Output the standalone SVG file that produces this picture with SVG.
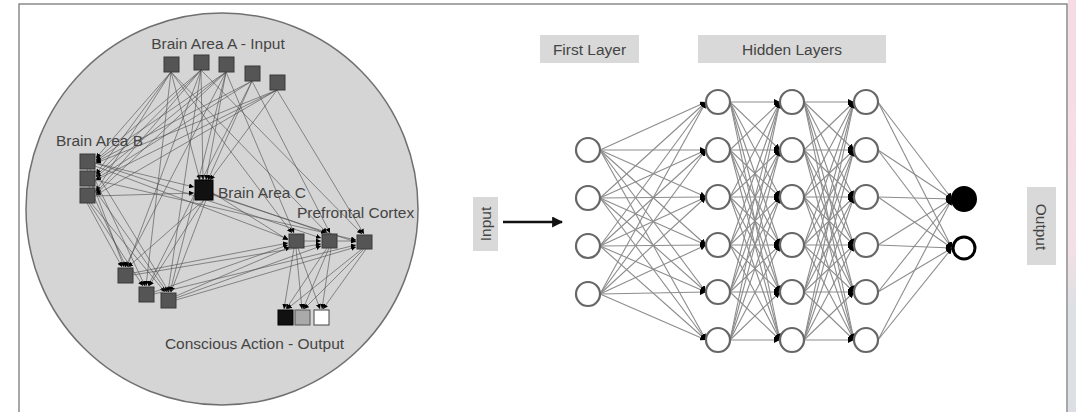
<svg xmlns="http://www.w3.org/2000/svg" width="1076" height="412" viewBox="0 0 1076 412">
<defs>
<marker id="ah" viewBox="0 0 6 6" refX="6" refY="3" markerWidth="5" markerHeight="5" markerUnits="userSpaceOnUse" orient="auto"><path d="M0,0 L6,3 L0,6 z" fill="#000"/></marker>
<marker id="ah2" viewBox="0 0 6 6" refX="6" refY="3" markerWidth="6" markerHeight="6" markerUnits="userSpaceOnUse" orient="auto"><path d="M0,0 L6,3 L0,6 z" fill="#000"/></marker>
<marker id="big" viewBox="0 0 10 10" refX="9" refY="5" markerWidth="11" markerHeight="11" markerUnits="userSpaceOnUse" orient="auto"><path d="M0,0 L10,5 L0,10 z" fill="#111"/></marker>
<linearGradient id="side" x1="0" y1="0" x2="0" y2="1"><stop offset="0" stop-color="#f6dbe3"/><stop offset="0.6" stop-color="#f3e0e5"/><stop offset="0.75" stop-color="#dde0e4"/><stop offset="1" stop-color="#dcdfe3"/></linearGradient>
</defs>
<style>
.lbl{font-family:"Liberation Sans",Arial,sans-serif;fill:#444;font-size:15.5px}
.sq{fill:#555;stroke:#3a3a3a;stroke-width:1}
.ge line{stroke:#4a4a4a;stroke-width:0.8;stroke-opacity:0.75;marker-end:url(#ah)}
.ne line{stroke:#8c8c8c;stroke-width:1.1;marker-end:url(#ah2)}
.nd{fill:#fff;stroke:#666;stroke-width:2.2}
.box{fill:#d9d9d9}
</style>
<rect width="1076" height="412" fill="#fff"/>
<rect x="1068" y="0" width="8" height="412" fill="url(#side)"/>
<path d="M19,412 V4 H1067 V412" fill="none" stroke="#8a8a8a" stroke-width="1.5"/>

<circle cx="222" cy="209" r="196" fill="#d5d5d5" stroke="#707070" stroke-width="1.5"/>

<g id="brain-connectors" class="ge">
<line x1="171" y1="72" x2="96" y2="158"/><line x1="171" y1="72" x2="96" y2="174"/><line x1="171" y1="72" x2="96" y2="191"/>
<line x1="201" y1="70" x2="96" y2="160"/><line x1="201" y1="70" x2="96" y2="176"/><line x1="201" y1="70" x2="96" y2="193"/>
<line x1="226" y1="72" x2="96" y2="161"/><line x1="226" y1="72" x2="96" y2="177"/><line x1="226" y1="72" x2="96" y2="194"/>
<line x1="252" y1="81" x2="96" y2="162"/><line x1="252" y1="81" x2="96" y2="179"/>
<line x1="277" y1="90" x2="96" y2="163"/><line x1="277" y1="90" x2="96" y2="180"/><line x1="277" y1="90" x2="96" y2="195"/>
<line x1="171" y1="72" x2="200" y2="180"/><line x1="201" y1="70" x2="203" y2="180"/><line x1="226" y1="72" x2="206" y2="180"/><line x1="252" y1="81" x2="208" y2="180"/><line x1="277" y1="90" x2="210" y2="180"/>
<line x1="171" y1="72" x2="146" y2="286"/><line x1="201" y1="70" x2="168" y2="292"/><line x1="226" y1="72" x2="125" y2="267"/><line x1="226" y1="72" x2="170" y2="292"/><line x1="252" y1="81" x2="148" y2="286"/><line x1="201" y1="70" x2="127" y2="267"/>
<line x1="171" y1="72" x2="327" y2="233"/><line x1="201" y1="70" x2="362" y2="234"/><line x1="226" y1="72" x2="294" y2="233"/><line x1="252" y1="81" x2="330" y2="233"/><line x1="277" y1="90" x2="364" y2="234"/><line x1="171" y1="72" x2="292" y2="233"/>
<line x1="95" y1="196" x2="194" y2="193"/><line x1="95" y1="163" x2="194" y2="187"/>
<line x1="87" y1="169" x2="124" y2="267"/><line x1="90" y1="169" x2="145" y2="286"/><line x1="92" y1="186" x2="167" y2="292"/><line x1="87" y1="203" x2="122" y2="267"/><line x1="89" y1="203" x2="143" y2="286"/><line x1="91" y1="203" x2="165" y2="292"/><line x1="89" y1="186" x2="126" y2="267"/><line x1="94" y1="169" x2="169" y2="292"/>
<line x1="95" y1="163" x2="321" y2="238"/><line x1="95" y1="180" x2="356" y2="240"/><line x1="95" y1="166" x2="288" y2="239"/>
<line x1="204" y1="200" x2="128" y2="267"/><line x1="204" y1="200" x2="149" y2="286"/><line x1="206" y1="200" x2="171" y2="292"/>
<line x1="213" y1="193" x2="288" y2="240"/><line x1="213" y1="195" x2="356" y2="242"/><line x1="213" y1="194" x2="326" y2="233"/>
<line x1="133" y1="273" x2="288" y2="243"/><line x1="133" y1="275" x2="321" y2="244"/><line x1="154" y1="292" x2="288" y2="245"/><line x1="154" y1="294" x2="356" y2="245"/><line x1="176" y1="298" x2="321" y2="246"/><line x1="176" y1="300" x2="356" y2="247"/><line x1="176" y1="296" x2="290" y2="247"/>
<line x1="304" y1="241" x2="321" y2="241"/><line x1="337" y1="241" x2="356" y2="241"/>
<line x1="294" y1="248" x2="284" y2="309"/><line x1="296" y1="248" x2="302" y2="309"/><line x1="298" y1="248" x2="320" y2="309"/>
<line x1="327" y1="248" x2="286" y2="309"/><line x1="329" y1="248" x2="303" y2="309"/><line x1="331" y1="248" x2="322" y2="309"/>
<line x1="362" y1="249" x2="287" y2="309"/><line x1="364" y1="249" x2="304" y2="309"/><line x1="366" y1="249" x2="323" y2="309"/>
</g>

<g id="brain-area-a">
<text class="lbl" x="218" y="49" text-anchor="middle">Brain Area A - Input</text>
<rect class="sq" x="164" y="57" width="15" height="15"/><rect class="sq" x="194" y="55" width="15" height="15"/><rect class="sq" x="219" y="57" width="15" height="15"/><rect class="sq" x="245" y="66" width="15" height="15"/><rect class="sq" x="270" y="75" width="15" height="15"/>
</g>
<g id="brain-area-b">
<text class="lbl" x="56" y="146">Brain Area B</text>
<rect class="sq" x="80" y="154" width="15" height="15"/><rect class="sq" x="80" y="171" width="15" height="15"/><rect class="sq" x="80" y="188" width="15" height="15"/>
</g>
<g id="brain-area-c">
<rect x="195" y="180" width="18" height="20" fill="#111" stroke="#000"/>
<text class="lbl" x="218" y="198">Brain Area C</text>
</g>
<g id="prefrontal-cortex">
<text class="lbl" x="297" y="218">Prefrontal Cortex</text>
<rect class="sq" x="289" y="234" width="15" height="14"/><rect class="sq" x="322" y="234" width="15" height="14"/><rect class="sq" x="357" y="235" width="15" height="14"/>
</g>
<g id="brain-area-d">
<rect class="sq" x="118" y="268" width="15" height="15"/><rect class="sq" x="139" y="287" width="15" height="15"/><rect class="sq" x="161" y="293" width="15" height="15"/>
</g>
<g id="conscious-action-output">
<rect x="278" y="310" width="15" height="15" fill="#111" stroke="#000"/><rect x="295" y="310" width="15" height="15" fill="#aaa" stroke="#555"/><rect x="314" y="310" width="15" height="15" fill="#fff" stroke="#444"/>
<text class="lbl" x="254.5" y="349" text-anchor="middle">Conscious Action - Output</text>
</g>

<g id="first-layer-label"><rect class="box" x="540" y="35" width="99" height="28"/><text class="lbl" x="589.5" y="55" text-anchor="middle">First Layer</text></g>
<g id="hidden-layers-label"><rect class="box" x="698" y="35" width="188" height="28"/><text class="lbl" x="792" y="55" text-anchor="middle">Hidden Layers</text></g>
<g id="input-label"><rect class="box" x="473" y="197" width="25" height="54"/><text class="lbl" transform="translate(491,224) rotate(-90)" text-anchor="middle">Input</text></g>
<g id="output-label"><rect class="box" x="1027" y="187" width="29" height="78"/><text class="lbl" transform="translate(1036,227) rotate(90)" text-anchor="middle">Output</text></g>

<g id="network-connectors" class="ne">
<line x1="503" y1="222" x2="562" y2="222" style="stroke:#111;stroke-width:2.5;marker-end:url(#big)"/>
<line x1="600" y1="150" x2="706" y2="102"/><line x1="600" y1="150" x2="706" y2="150"/><line x1="600" y1="150" x2="706" y2="197"/><line x1="600" y1="150" x2="706" y2="245"/><line x1="600" y1="150" x2="706" y2="292"/><line x1="600" y1="150" x2="706" y2="340"/>
<line x1="600" y1="198" x2="706" y2="102"/><line x1="600" y1="198" x2="706" y2="150"/><line x1="600" y1="198" x2="706" y2="197"/><line x1="600" y1="198" x2="706" y2="245"/><line x1="600" y1="198" x2="706" y2="292"/><line x1="600" y1="198" x2="706" y2="340"/>
<line x1="600" y1="246" x2="706" y2="102"/><line x1="600" y1="246" x2="706" y2="150"/><line x1="600" y1="246" x2="706" y2="197"/><line x1="600" y1="246" x2="706" y2="245"/><line x1="600" y1="246" x2="706" y2="292"/><line x1="600" y1="246" x2="706" y2="340"/>
<line x1="600" y1="294" x2="706" y2="102"/><line x1="600" y1="294" x2="706" y2="150"/><line x1="600" y1="294" x2="706" y2="197"/><line x1="600" y1="294" x2="706" y2="245"/><line x1="600" y1="294" x2="706" y2="292"/><line x1="600" y1="294" x2="706" y2="340"/>
<line x1="730" y1="102" x2="780" y2="102"/><line x1="730" y1="102" x2="780" y2="150"/><line x1="730" y1="102" x2="780" y2="197"/><line x1="730" y1="102" x2="780" y2="245"/><line x1="730" y1="102" x2="780" y2="292"/><line x1="730" y1="102" x2="780" y2="340"/>
<line x1="730" y1="150" x2="780" y2="102"/><line x1="730" y1="150" x2="780" y2="150"/><line x1="730" y1="150" x2="780" y2="197"/><line x1="730" y1="150" x2="780" y2="245"/><line x1="730" y1="150" x2="780" y2="292"/><line x1="730" y1="150" x2="780" y2="340"/>
<line x1="730" y1="197" x2="780" y2="102"/><line x1="730" y1="197" x2="780" y2="150"/><line x1="730" y1="197" x2="780" y2="197"/><line x1="730" y1="197" x2="780" y2="245"/><line x1="730" y1="197" x2="780" y2="292"/><line x1="730" y1="197" x2="780" y2="340"/>
<line x1="730" y1="245" x2="780" y2="102"/><line x1="730" y1="245" x2="780" y2="150"/><line x1="730" y1="245" x2="780" y2="197"/><line x1="730" y1="245" x2="780" y2="245"/><line x1="730" y1="245" x2="780" y2="292"/><line x1="730" y1="245" x2="780" y2="340"/>
<line x1="730" y1="292" x2="780" y2="102"/><line x1="730" y1="292" x2="780" y2="150"/><line x1="730" y1="292" x2="780" y2="197"/><line x1="730" y1="292" x2="780" y2="245"/><line x1="730" y1="292" x2="780" y2="292"/><line x1="730" y1="292" x2="780" y2="340"/>
<line x1="730" y1="340" x2="780" y2="102"/><line x1="730" y1="340" x2="780" y2="150"/><line x1="730" y1="340" x2="780" y2="197"/><line x1="730" y1="340" x2="780" y2="245"/><line x1="730" y1="340" x2="780" y2="292"/><line x1="730" y1="340" x2="780" y2="340"/>
<line x1="804" y1="102" x2="854" y2="102"/><line x1="804" y1="102" x2="854" y2="150"/><line x1="804" y1="102" x2="854" y2="197"/><line x1="804" y1="102" x2="854" y2="245"/><line x1="804" y1="102" x2="854" y2="292"/><line x1="804" y1="102" x2="854" y2="340"/>
<line x1="804" y1="150" x2="854" y2="102"/><line x1="804" y1="150" x2="854" y2="150"/><line x1="804" y1="150" x2="854" y2="197"/><line x1="804" y1="150" x2="854" y2="245"/><line x1="804" y1="150" x2="854" y2="292"/><line x1="804" y1="150" x2="854" y2="340"/>
<line x1="804" y1="197" x2="854" y2="102"/><line x1="804" y1="197" x2="854" y2="150"/><line x1="804" y1="197" x2="854" y2="197"/><line x1="804" y1="197" x2="854" y2="245"/><line x1="804" y1="197" x2="854" y2="292"/><line x1="804" y1="197" x2="854" y2="340"/>
<line x1="804" y1="245" x2="854" y2="102"/><line x1="804" y1="245" x2="854" y2="150"/><line x1="804" y1="245" x2="854" y2="197"/><line x1="804" y1="245" x2="854" y2="245"/><line x1="804" y1="245" x2="854" y2="292"/><line x1="804" y1="245" x2="854" y2="340"/>
<line x1="804" y1="292" x2="854" y2="102"/><line x1="804" y1="292" x2="854" y2="150"/><line x1="804" y1="292" x2="854" y2="197"/><line x1="804" y1="292" x2="854" y2="245"/><line x1="804" y1="292" x2="854" y2="292"/><line x1="804" y1="292" x2="854" y2="340"/>
<line x1="804" y1="340" x2="854" y2="102"/><line x1="804" y1="340" x2="854" y2="150"/><line x1="804" y1="340" x2="854" y2="197"/><line x1="804" y1="340" x2="854" y2="245"/><line x1="804" y1="340" x2="854" y2="292"/><line x1="804" y1="340" x2="854" y2="340"/>
<line x1="878" y1="102" x2="952" y2="199"/><line x1="878" y1="102" x2="952" y2="248"/>
<line x1="878" y1="150" x2="952" y2="199"/><line x1="878" y1="150" x2="952" y2="248"/>
<line x1="878" y1="197" x2="952" y2="199"/><line x1="878" y1="197" x2="952" y2="248"/>
<line x1="878" y1="245" x2="952" y2="199"/><line x1="878" y1="245" x2="952" y2="248"/>
<line x1="878" y1="292" x2="952" y2="199"/><line x1="878" y1="292" x2="952" y2="248"/>
<line x1="878" y1="340" x2="952" y2="199"/><line x1="878" y1="340" x2="952" y2="248"/>
</g>

<g id="input-layer"><circle class="nd" cx="588" cy="150" r="12"/><circle class="nd" cx="588" cy="198" r="12"/><circle class="nd" cx="588" cy="246" r="12"/><circle class="nd" cx="588" cy="294" r="12"/></g>
<g id="hidden-layer-1"><circle class="nd" cx="718" cy="102" r="12"/><circle class="nd" cx="718" cy="150" r="12"/><circle class="nd" cx="718" cy="197" r="12"/><circle class="nd" cx="718" cy="245" r="12"/><circle class="nd" cx="718" cy="292" r="12"/><circle class="nd" cx="718" cy="340" r="12"/></g>
<g id="hidden-layer-2"><circle class="nd" cx="792" cy="102" r="12"/><circle class="nd" cx="792" cy="150" r="12"/><circle class="nd" cx="792" cy="197" r="12"/><circle class="nd" cx="792" cy="245" r="12"/><circle class="nd" cx="792" cy="292" r="12"/><circle class="nd" cx="792" cy="340" r="12"/></g>
<g id="hidden-layer-3"><circle class="nd" cx="866" cy="102" r="12"/><circle class="nd" cx="866" cy="150" r="12"/><circle class="nd" cx="866" cy="197" r="12"/><circle class="nd" cx="866" cy="245" r="12"/><circle class="nd" cx="866" cy="292" r="12"/><circle class="nd" cx="866" cy="340" r="12"/></g>
<g id="output-layer"><circle cx="964" cy="199" r="12" fill="#000" stroke="#000" stroke-width="2"/><circle cx="964" cy="248" r="11" fill="#fff" stroke="#000" stroke-width="3"/></g>
</svg>
